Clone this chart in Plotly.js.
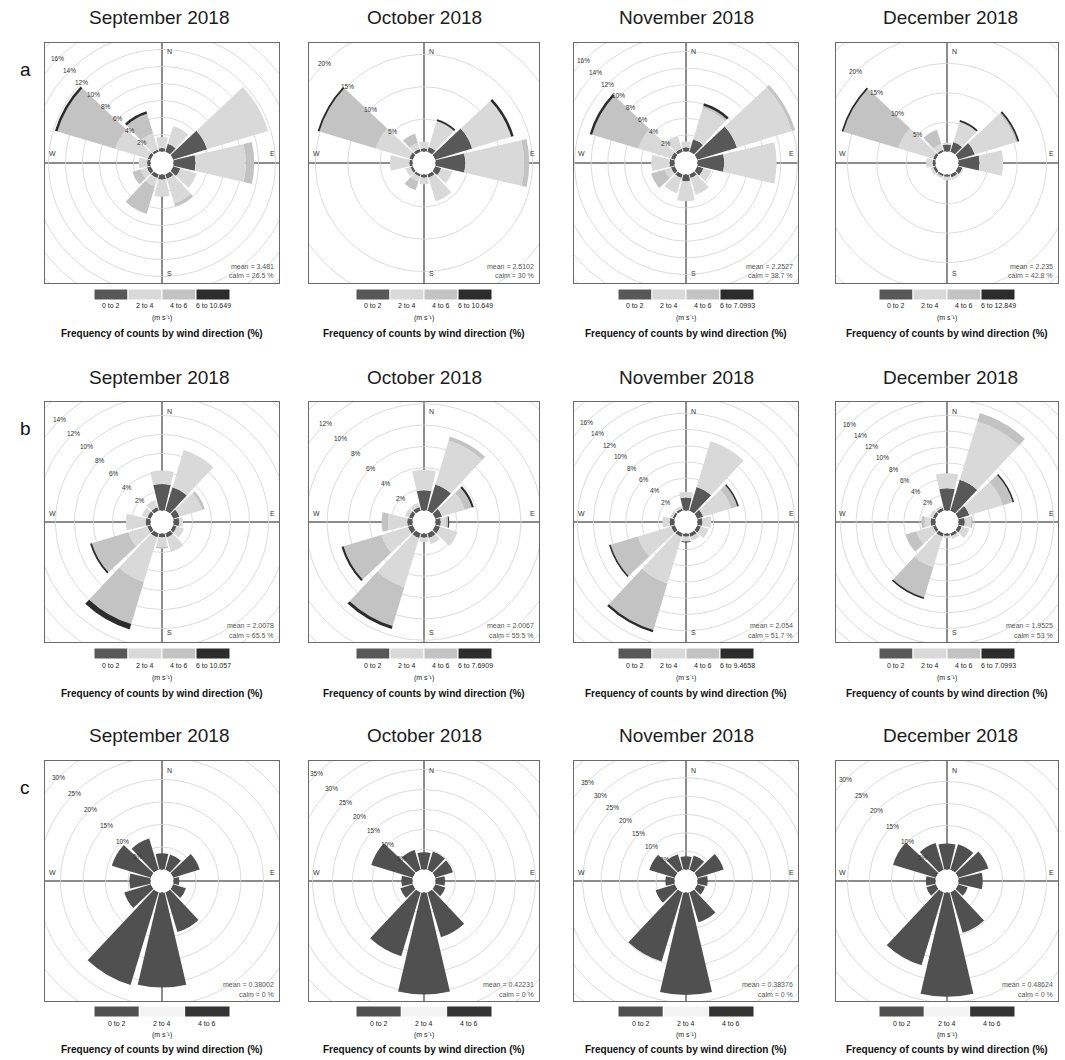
<!DOCTYPE html>
<html><head><meta charset="utf-8">
<script src="https://cdn.plot.ly/plotly-3.0.1.min.js"></script>
<style>html,body{margin:0;padding:0;background:#fff}#chart{width:1065px;height:1060px}</style>
</head><body><div id="chart"></div>
<script>
// ---------------- data ----------------
const directions = [0, 30, 60, 90, 120, 150, 180, 210, 240, 270, 300, 330];
const months = ["September 2018", "October 2018", "November 2018", "December 2018"];
const rowLetters = ["a", "b", "c"];
const binLabels = ["0 to 2", "2 to 4", "4 to 6"];
const topBinA = ["6 to 10.649", "6 to 10.649", "6 to 7.0993", "6 to 12.849"];
const topBinB = ["6 to 10.057", "6 to 7.6909", "6 to 9.4658", "6 to 7.0993"];
const meanA = ["3.481", "2.5102", "2.2527", "2.235"];
const calmA = ["26.5", "30", "38.7", "42.8"];
const meanB = ["2.0078", "2.0067", "2.054", "1.9525"];
const calmB = ["65.5", "55.5", "51.7", "53"];
const meanC = ["0.38002", "0.42231", "0.38376", "0.48624"];
const calmC = ["0", "0", "0", "0"];

// frequency (%) by direction, one array per speed bin: 0-2, 2-4, 4-6, 6+
const aSep = [
  [0.4, 1.0, 4.2, 2.6, 0.9, 0.6, 0.6, 0.5, 0.5, 0.4, 0.4, 0.3],
  [1.3, 2.2, 7.5, 5.9, 2.0, 3.0, 2.0, 1.0, 0.8, 1.0, 4.0, 2.0],
  [0, 0, 0, 1.0, 0, 0.4, 0, 3.4, 1.0, 0, 7.1, 2.4],
  [0, 0, 0, 0, 0, 0, 0, 0, 0, 0, 0.3, 0.3]];
const aOct = [
  [0.5, 0.8, 6.0, 4.6, 1.0, 0.6, 0.5, 0.4, 0.4, 0.5, 0.6, 0.5],
  [1.0, 4.2, 6.3, 9.1, 1.8, 3.8, 1.0, 0.8, 0.8, 3.0, 5.4, 1.0],
  [0, 0, 0, 0.8, 0, 0, 0, 1.4, 0, 0, 9.1, 1.5],
  [0, 0.3, 0.4, 0, 0, 0, 0, 0, 0, 0, 0.3, 0]];
const aNov = [
  [0.5, 1.6, 5.0, 3.2, 0.8, 0.5, 0.8, 0.5, 0.5, 0.6, 0.5, 0.4],
  [0.7, 3.9, 6.9, 6.3, 1.0, 2.1, 2.4, 1.9, 0.8, 2.2, 4.1, 1.6],
  [0, 0.3, 0.4, 0, 0, 0, 0, 0, 1.7, 0, 5.8, 0],
  [0, 0.3, 0, 0, 0, 0, 0, 0, 0, 0, 0.3, 0]];
const aDec = [
  [1.2, 1.8, 3.0, 3.6, 0.8, 0.6, 0.4, 0.4, 0.5, 0.5, 0.5, 0.4],
  [0.3, 3.6, 7.3, 4.0, 0.2, 0.4, 0.6, 0.4, 0.5, 1.1, 6.2, 1.0],
  [0, 0, 0.3, 0, 0, 0, 0, 0, 0, 0, 9.8, 2.5],
  [0, 0.3, 0.3, 0, 0, 0, 0, 0, 0, 0, 0.3, 0]];
const bSep = [
  [2.8, 2.6, 0.7, 0.6, 0.4, 0.5, 0.4, 0.5, 0.4, 0.5, 0.4, 0.4],
  [1.4, 4.1, 2.5, 0.4, 0.8, 1.6, 1.0, 4.9, 2.1, 2.1, 0.6, 0.8],
  [0, 0, 0.3, 0, 0, 0, 0.2, 4.6, 4.0, 0, 0, 0],
  [0, 0, 0, 0, 0, 0, 0, 0.6, 0.2, 0, 0, 0]];
const bOct = [
  [1.9, 2.6, 0.7, 0.5, 0.5, 0.5, 0.4, 0.5, 0.5, 0.5, 0.4, 0.4],
  [1.9, 4.3, 2.2, 0.5, 1.7, 0.6, 0.4, 4.8, 2.6, 1.8, 0.4, 0.4],
  [0, 0.4, 0.7, 0.2, 0, 0, 0, 3.8, 3.7, 0.6, 0, 0],
  [0, 0, 0.2, 0.1, 0, 0, 0, 0.3, 0.2, 0, 0, 0]];
const bNov = [
  [1.6, 3.1, 0.8, 0.6, 0.5, 0.5, 0.4, 0.5, 0.5, 0.6, 0.3, 0.3],
  [0.7, 5.9, 3.6, 1.1, 1.0, 0.5, 0.6, 6.0, 4.3, 0.9, 0.3, 0.3],
  [0, 0, 0.8, 0, 0, 0, 0, 6.0, 3.5, 0, 0, 0],
  [0, 0, 0.2, 0, 0, 0, 0.1, 0.3, 0.2, 0, 0, 0]];
const bDec = [
  [2.8, 4.1, 1.5, 0.8, 0.5, 0.4, 0.3, 0.5, 0.4, 0.6, 0.4, 0.4],
  [1.9, 7.7, 4.4, 0.8, 1.0, 0.4, 0.3, 4.0, 2.2, 0.8, 0.4, 0.3],
  [0, 1.1, 1.3, 0.2, 0, 0, 0, 4.0, 1.4, 0.4, 0, 0],
  [0, 0, 0.2, 0, 0, 0, 0, 0.2, 0, 0, 0, 0]];
const cSep = [3.6, 3.6, 6.2, 1.3, 3.0, 9.3, 21.1, 21.6, 6.2, 4.7, 9.1, 7.3];
const cOct = [4.3, 4.8, 4.7, 2.4, 2.7, 11.8, 25.5, 16.8, 3.3, 2.8, 10.9, 5.2];
const cNov = [3.6, 4.1, 7.6, 2.8, 2.3, 8.6, 27.9, 19.8, 5.5, 2.5, 7.3, 4.5];
const cDec = [5.9, 6.1, 7.2, 5.5, 2.3, 9.7, 23.7, 17.4, 2.3, 2.2, 10.2, 6.4];

// ---------------- layout config ----------------
const W = 1065, H = 1060;
const FONT = 'Arial, "Liberation Sans", sans-serif';
const fx = x => x / W, fy = y => 1 - y / H;
const boxL = [45, 309, 574, 836], boxR = [279, 539, 798, 1058], colC = [162, 424, 686, 947];
const boxT = [43, 402, 761], boxB = [283, 642, 1001], rowC = [163, 522, 881];
const titleY = [18, 377, 735], titleX = [159, 424, 686, 950];
const legTop = [289, 648, 1006], legH = 11, legW = 136;
const labY = [305, 665, 1023], unitY = [318, 678, 1035], capY = [333, 693, 1049];
const R = 117, HOLE = 11.5;
const pxPerPct = [[8.5, 6.47, 8.33, 5.87], [9.5, 10.67, 8.1, 7.93], [4.5, 4.0, 3.67, 4.4]];
const gridStep = [[2, 5, 2, 5], [2, 2, 2, 2], [5, 5, 5, 5]];
const colorsAB = ['#585858', '#d9d9d9', '#c3c3c3', '#2c2c2c'];
const colorsC = ['#505050', '#f3f3f3', '#333333'];

const panelData = [[aSep, aOct, aNov, aDec], [bSep, bOct, bNov, bDec], [[cSep], [cOct], [cNov], [cDec]]];
const means = [meanA, meanB, meanC], calms = [calmA, calmB, calmC];

const traces = [];
const layout = {
  width: W, height: H, margin: {l: 0, r: 0, t: 0, b: 0},
  paper_bgcolor: '#ffffff', plot_bgcolor: '#ffffff', showlegend: false,
  font: {family: FONT, color: '#222'}, shapes: [], annotations: []
};
function addText(x, y, text, size, extra) {
  layout.annotations.push(Object.assign({
    xref: 'paper', yref: 'paper', x: fx(x), y: fy(y), text: text, showarrow: false,
    xanchor: 'center', yanchor: 'middle', font: {size: size, color: '#222', family: FONT}
  }, extra || {}));
}

for (let r = 0; r < 3; r++) {
  addText(25, boxT[r] + 27, rowLetters[r], 19, {font: {size: 19, color: '#111', family: FONT}});
  for (let c = 0; c < 4; c++) {
    const p = r * 4 + c;
    const sub = p === 0 ? '' : String(p + 1);
    const x0 = boxL[c], x1 = boxR[c], cx = colC[c], y0 = boxT[r], y1 = boxB[r], cy = rowC[r];
    const k = pxPerPct[r][c];
    const axCommon = {showgrid: false, zeroline: true, zerolinecolor: '#8c8c8c', zerolinewidth: 1.5,
      showline: true, mirror: true, linecolor: '#6a6a6a', linewidth: 1, showticklabels: false,
      ticks: '', fixedrange: true};
    layout['xaxis' + sub] = Object.assign({domain: [fx(x0), fx(x1)], range: [x0 - cx, x1 - cx], anchor: 'y' + sub}, axCommon);
    layout['yaxis' + sub] = Object.assign({domain: [fy(y1), fy(y0)], range: [cy - y1, cy - y0], anchor: 'x' + sub}, axCommon);

    // grid circles (clipped to the frame) + percentage labels on the NW diagonal
    const gx = [], gy = [];
    const step = gridStep[r][c];
    for (let v = step; HOLE + v * k < 172; v += step) {
      const rad = HOLE + v * k;
      for (let t = 0; t <= 360; t += 3) {
        gx.push(rad * Math.sin(t * Math.PI / 180));
        gy.push(rad * Math.cos(t * Math.PI / 180));
      }
      gx.push(null); gy.push(null);
      const d = rad / Math.SQRT2;
      if (d <= (cx - x0) - 7 && d <= (cy - y0) - 5) {
        layout.annotations.push({xref: 'x' + sub, yref: 'y' + sub, x: -d, y: d, text: v + '%',
          showarrow: false, font: {size: 6.5, color: '#333', family: FONT}});
      }
    }
    traces.push({type: 'scatter', mode: 'lines', x: gx, y: gy, xaxis: 'x' + sub, yaxis: 'y' + sub,
      line: {color: '#d2d2d2', width: 0.8}, hoverinfo: 'skip', showlegend: false});

    // wind rose wedges
    const bins = panelData[r][c];
    const cols = r === 2 ? colorsC : colorsAB;
    bins.forEach((vals, b) => {
      traces.push({type: 'barpolar', subplot: 'polar' + sub, r: vals, theta: directions,
        marker: {color: cols[b], line: {width: 0}}, hoverinfo: 'skip', showlegend: false});
    });
    layout['polar' + sub] = {
      domain: {x: [fx(cx - R), fx(cx + R)], y: [fy(cy + R), fy(cy - R)]},
      bgcolor: 'rgba(0,0,0,0)', hole: HOLE / R, bargap: 0.12, barmode: 'stack',
      radialaxis: {visible: false, range: [0, (R - HOLE) / k], showgrid: false, showline: false, showticklabels: false, ticks: ''},
      angularaxis: {visible: false, rotation: 90, direction: 'clockwise', showgrid: false, showline: false, showticklabels: false, ticks: ''}
    };
    // white centre hole
    layout.shapes.push({type: 'circle', xref: 'x' + sub, yref: 'y' + sub, x0: -HOLE + 0.5, x1: HOLE - 0.5,
      y0: -HOLE + 0.5, y1: HOLE - 0.5, fillcolor: '#ffffff', line: {width: 0}, layer: 'above'});

    // compass letters (S is hidden under the long southern wedges in row c)
    const cf = {size: 7, color: '#333', family: FONT};
    addText(cx + 7, y0 + 9, 'N', 7, {font: cf});
    if (r !== 2) addText(cx + 7, y1 - 10, 'S', 7, {font: cf});
    addText(x0 + 7, cy - 9, 'W', 7, {font: cf});
    addText(x1 - 7, cy - 9, 'E', 7, {font: cf});
    // mean / calm
    const mf = {size: 7, color: '#555', family: FONT};
    addText(x1 - 3, y1 - 17, 'mean = ' + means[r][c], 7, {xanchor: 'right', font: mf});
    addText(x1 - 3, y1 - 7, 'calm = ' + calms[r][c] + ' %', 7, {xanchor: 'right', font: mf});

    // title
    addText(titleX[c], titleY[r], months[c], 19, {font: {size: 19, color: '#1c1c1c', family: FONT}});

    // key
    const labels = r === 0 ? binLabels.concat([topBinA[c]]) : r === 1 ? binLabels.concat([topBinB[c]]) : binLabels;
    const nb = labels.length, bw = legW / nb, lx0 = cx - legW / 2;
    for (let b = 0; b < nb; b++) {
      layout.shapes.push({type: 'rect', xref: 'paper', yref: 'paper',
        x0: fx(lx0 + b * bw), x1: fx(lx0 + (b + 1) * bw), y0: fy(legTop[r] + legH), y1: fy(legTop[r]),
        fillcolor: cols[b], line: {color: '#ffffff', width: 1}, layer: 'above'});
      addText(lx0 + (b + 0.5) * bw, labY[r], labels[b], 7, {font: {size: 7, color: '#222', family: FONT}});
    }
    addText(cx, unitY[r], '(m s\u207B\u00B9)', 7, {font: {size: 7, color: '#222', family: FONT}});
    addText(cx, capY[r], 'Frequency of counts by wind direction (%)', 10,
      {font: {size: 10, color: '#111', family: FONT, weight: 'bold'}});
  }
}

Plotly.newPlot('chart', traces, layout, {staticPlot: true, displayModeBar: false});
</script></body></html>
